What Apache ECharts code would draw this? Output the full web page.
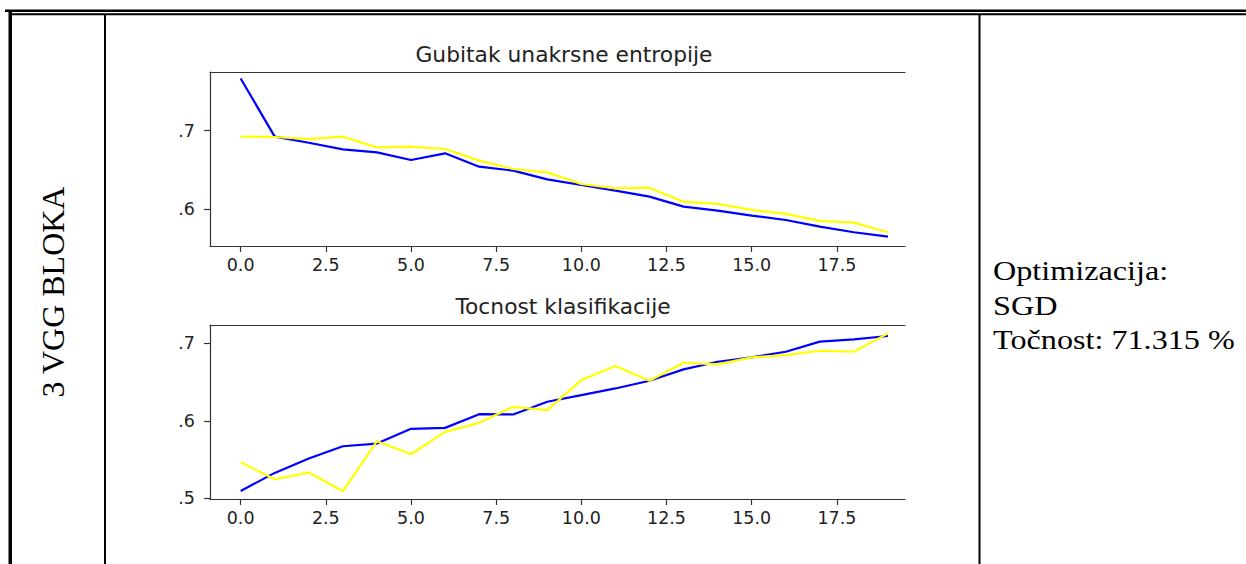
<!DOCTYPE html>
<html>
<head>
<meta charset="utf-8">
<title>3 VGG BLOKA - SGD</title>
<script src="https://cdn.jsdelivr.net/npm/echarts@6/dist/echarts.min.js"></script>
<style>
  html, body { margin: 0; padding: 0; background: #fff; }
  #page { width: 1246px; height: 564px; }
</style>
</head>
<body>
<div id="page"></div>
<script>
// epochs 0..19
const epochs = [0, 1, 2, 3, 4, 5, 6, 7, 8, 9, 10, 11, 12, 13, 14, 15, 16, 17, 18, 19];

// cross-entropy loss (blue = train, yellow = validation)
const lossTrain = [0.7665, 0.6924, 0.6847, 0.6763, 0.6725, 0.6627, 0.6712, 0.6542, 0.6492, 0.6381,
  0.6309, 0.6237, 0.6161, 0.6034, 0.5983, 0.5920, 0.5864, 0.5780, 0.5708, 0.5653];
const lossVal = [0.6924, 0.6920, 0.6894, 0.6924, 0.6788, 0.6797, 0.6767, 0.6619, 0.6513, 0.6470,
  0.6322, 0.6267, 0.6275, 0.6097, 0.6068, 0.5992, 0.5941, 0.5852, 0.5831, 0.5708];

// classification accuracy
const accTrain = [0.5095, 0.5328, 0.5513, 0.5672, 0.5707, 0.5897, 0.5909, 0.6086, 0.6082, 0.6246,
  0.6332, 0.6418, 0.6517, 0.6664, 0.6763, 0.6819, 0.6892, 0.7022, 0.7052, 0.7095];
const accVal = [0.5466, 0.5246, 0.5332, 0.5090, 0.5737, 0.5569, 0.5858, 0.5974, 0.6181, 0.6138,
  0.6526, 0.6707, 0.6517, 0.6750, 0.6728, 0.6819, 0.6849, 0.6905, 0.6892, 0.7129];

const xTicks = [0, 2.5, 5, 7.5, 10, 12.5, 15, 17.5];
const lossTicks = [0.6, 0.7];
const accTicks = [0.5, 0.6, 0.7];

const titles = ['Gubitak unakrsne entropije', 'Tocnost klasifikacije'];
const rowLabel = '3 VGG BLOKA';
const infoLines = ['Optimizacija:', 'SGD', 'Točnost: 71.315 %'];

const spine = '#333';
const tickFont = 'DejaVu Sans';

const pairs = (ys) => epochs.map((e, i) => [e, ys[i]]);

function xAxisFor(gridIndex) {
  return [{
    type: 'value', gridIndex, min: -0.9, max: 19.5,
    axisLine: { show: true, onZero: false, lineStyle: { color: spine, width: 1.2 } },
    axisTick: { show: true, length: 6, customValues: xTicks, lineStyle: { color: spine, width: 1.2 } },
    axisLabel: {
      customValues: xTicks, formatter: (v) => v.toFixed(1),
      fontFamily: tickFont, fontSize: 17.5, color: '#222', margin: 10
    },
    splitLine: { show: false }
  }, {
    // top spine only
    type: 'value', gridIndex, position: 'top', min: -0.9, max: 19.5,
    axisLine: { show: true, onZero: false, lineStyle: { color: spine, width: 1.2 } },
    axisTick: { show: false }, axisLabel: { show: false }, splitLine: { show: false }
  }];
}

function yAxisFor(gridIndex, min, max, ticks) {
  return {
    type: 'value', gridIndex, min, max,
    axisLine: { show: true, onZero: false, lineStyle: { color: spine, width: 1.2 } },
    axisTick: { show: true, length: 6, customValues: ticks, lineStyle: { color: spine, width: 1.2 } },
    axisLabel: {
      customValues: ticks, formatter: (v) => '.' + Math.round(v * 10),
      fontFamily: tickFont, fontSize: 17.5, color: '#222', margin: 15
    },
    splitLine: { show: false }
  };
}

function lineSeries(data, color, xi, yi) {
  return {
    type: 'line', data: pairs(data), xAxisIndex: xi, yAxisIndex: yi,
    showSymbol: false, symbol: 'none', silent: true,
    lineStyle: { color, width: 2.2 }
  };
}

function rect(x, y, w, h) {
  return { type: 'rect', shape: { x, y, width: w, height: h }, style: { fill: '#000' }, silent: true };
}

const serif = '"Liberation Serif", "Times New Roman", serif';

const graphic = [
  // table frame
  rect(5, 9.5, 1241, 2.5),
  rect(11.5, 13.3, 1235, 2),
  rect(8.5, 10, 3.5, 554),
  rect(104, 15, 2, 549),
  rect(978.5, 15, 2, 549),
  {
    type: 'text', x: 53, y: 292, rotation: Math.PI / 2,
    style: { text: rowLabel, font: '32px ' + serif, fill: '#000', textAlign: 'center', textVerticalAlign: 'middle' }
  },
  {
    type: 'text', x: 564, y: 54, style: {
      text: titles[0], font: '21.8px "' + tickFont + '"', fill: '#222',
      textAlign: 'center', textVerticalAlign: 'middle'
    }
  },
  {
    type: 'text', x: 563, y: 306, style: {
      text: titles[1], font: '21.8px "' + tickFont + '"', fill: '#222',
      textAlign: 'center', textVerticalAlign: 'middle'
    }
  }
].concat(infoLines.map((t, i) => ({
  // the scanned page is a little wider than tall, so stretch the cell text
  type: 'text', x: 993, y: 271 + i * 34.5, scaleX: 1.15,
  style: { text: t, font: '28px ' + serif, fill: '#000', textAlign: 'left', textVerticalAlign: 'middle' }
})));

const chart = echarts.init(document.getElementById('page'), null, { renderer: 'svg', width: 1246, height: 564 });
chart.setOption({
  animation: false,
  backgroundColor: '#fff',
  grid: [
    { left: 210, top: 72, width: 695, height: 174, outerBoundsMode: 'none' },
    { left: 210, top: 325, width: 695, height: 174, outerBoundsMode: 'none' }
  ],
  xAxis: xAxisFor(0).concat(xAxisFor(1)),
  yAxis: [
    yAxisFor(0, 0.5533, 0.7747, lossTicks),
    yAxisFor(1, 0.4991, 0.7237, accTicks)
  ],
  series: [
    lineSeries(lossTrain, '#0000ff', 0, 0),
    lineSeries(lossVal, '#ffff00', 0, 0),
    lineSeries(accTrain, '#0000ff', 2, 1),
    lineSeries(accVal, '#ffff00', 2, 1)
  ],
  graphic
});
</script>
</body>
</html>
